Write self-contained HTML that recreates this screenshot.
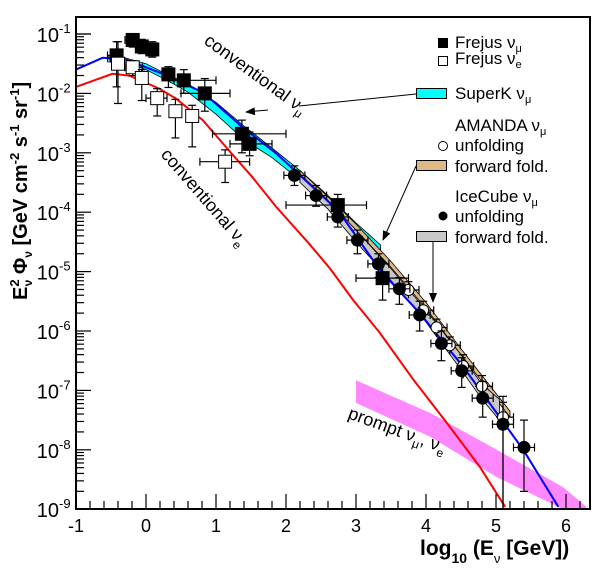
<!DOCTYPE html>
<html><head><meta charset="utf-8"><style>
body{margin:0;background:#fff}
svg{display:block;font-family:"Liberation Sans",sans-serif}
</style></head><body>
<svg id="chart" width="608" height="572" viewBox="0 0 608 572">
<defs>
<marker id="ah" markerWidth="10" markerHeight="8" refX="9" refY="4" orient="auto" markerUnits="userSpaceOnUse"><path d="M0,0 L10,4 L0,8 z" fill="#000"/></marker>
</defs>
<rect x="76" y="17" width="514" height="492" fill="#fff"/>
<g id="bands"></g>
<g id="curves"></g>
<g id="points"></g>
<g id="axes"></g>
<rect x="76" y="17" width="514" height="492" fill="none" stroke="#000" stroke-width="2"/>
<g font-size="17">
<rect x="438" y="38" width="10" height="10" fill="#000"/>
<text x="455" y="48">Frejus ν<tspan font-size="11" dy="4">μ</tspan></text>
<rect x="438.5" y="56.5" width="9" height="9" fill="#fff" stroke="#000"/>
<text x="455" y="64">Frejus ν<tspan font-size="11" dy="4">e</tspan></text>
<rect x="416.5" y="88.5" width="30" height="10" fill="#00ffff" stroke="#000"/>
<text x="455" y="99">SuperK ν<tspan font-size="11" dy="4">μ</tspan></text>
<text x="455" y="131">AMANDA ν<tspan font-size="11" dy="4">μ</tspan></text>
<circle cx="443" cy="146" r="4.5" fill="#fff" stroke="#000"/>
<text x="455" y="151">unfolding</text>
<rect x="416.5" y="160.5" width="30" height="10" fill="#deb887" stroke="#000"/>
<text x="455" y="172">forward fold.</text>
<text x="455" y="202">IceCube ν<tspan font-size="11" dy="4">μ</tspan></text>
<circle cx="443" cy="216" r="4.5" fill="#000"/>
<text x="455" y="222">unfolding</text>
<rect x="416.5" y="231.5" width="30" height="10" fill="#c8c8c8" stroke="#000"/>
<text x="455" y="243">forward fold.</text>
</g>
<g stroke="#000" stroke-width="1" fill="none">
<line x1="416" y1="94" x2="299" y2="106"/>
<line x1="268" y1="110" x2="246" y2="112" marker-end="url(#ah)"/>
<line x1="416" y1="166" x2="383" y2="240" marker-end="url(#ah)"/>
<line x1="433" y1="242" x2="433" y2="302" marker-end="url(#ah)"/>
</g>
<text transform="translate(203,43) rotate(36)" font-size="18">conventional ν<tspan font-size="12" dy="5">μ</tspan></text>
<text transform="translate(160,155) rotate(49)" font-size="18">conventional ν<tspan font-size="12" dy="5">e</tspan></text>
<text transform="translate(347,418) rotate(20)" font-size="18">prompt ν<tspan font-size="12" dy="5">μ</tspan><tspan dy="-5">, ν</tspan><tspan font-size="12" dy="5">e</tspan></text>
<text transform="translate(27,300) rotate(-90)" font-size="20" font-weight="bold">E<tspan font-size="13" dy="-8">2</tspan><tspan font-size="12" dx="-7" dy="13">ν</tspan><tspan dy="-5"> Φ</tspan><tspan font-size="12" dy="5">ν</tspan><tspan dy="-5"> [GeV cm</tspan><tspan font-size="13" dy="-8">-2</tspan><tspan dy="8"> s</tspan><tspan font-size="13" dy="-8">-1</tspan><tspan dy="8"> sr</tspan><tspan font-size="13" dy="-8">-1</tspan><tspan dy="8">]</tspan></text>
<text x="420" y="555" font-size="21" font-weight="bold">log<tspan font-size="14" dy="8">10</tspan><tspan dy="-8"> (E</tspan><tspan font-size="13" dy="8" font-weight="normal">ν</tspan><tspan dy="-8"> [GeV])</tspan></text>
<script>
const blueE=[-1,-0.62,-0.29,0.24,0.81,1.38,1.86,2.33,2.63,2.81,3.34,3.91,4.53,5.01,5.39,5.89];
const blueF=[-1.60,-1.40,-1.43,-1.67,-1.98,-2.57,-3.01,-3.52,-3.85,-4.08,-4.97,-5.70,-6.6,-7.38,-8.0,-8.96];
const redE=[-1,-0.48,-0.24,0.19,0.43,0.81,1.14,1.52,1.86,2.33,2.63,2.96,3.34,3.82,4.3,4.77,5.13];
const redF=[-1.89,-1.67,-1.70,-1.92,-2.09,-2.45,-2.90,-3.41,-3.91,-4.53,-4.95,-5.48,-6.03,-6.82,-7.55,-8.29,-8.96];
const promptE=[3.0,4.06,5.01,5.96,6.29];
const promptLo=[-7.21,-7.78,-8.46,-9.0,-9.0];
const promptHi=[-6.83,-7.38,-8.0,-8.63,-8.96];
const superkE=[-0.55,-0.3,0,0.3,0.6,1.0,1.4,1.8,2.2,2.6,3.0,3.35];
const superkLo=[-1.47,-1.48,-1.60,-1.78,-1.98,-2.35,-2.78,-3.08,-3.46,-3.85,-4.3,-4.7];
const superkHi=[-1.38,-1.40,-1.50,-1.68,-1.84,-2.15,-2.55,-2.92,-3.3,-3.72,-4.18,-4.55];
const amandaFfE=[2.2,2.6,3.0,3.5,4.0,4.5,5.0,5.2];
const amandaFfLo=[-3.38,-3.82,-4.3,-4.93,-5.62,-6.4,-7.15,-7.45];
const amandaFfHi=[-3.3,-3.74,-4.2,-4.83,-5.52,-6.3,-7.05,-7.35];
const icecubeFfE=[2.2,2.6,3.0,3.5,4.0,4.5,4.8,5.05];
const icecubeFfLo=[-3.5,-3.95,-4.5,-5.15,-5.85,-6.65,-7.15,-7.5];
const icecubeFfHi=[-3.36,-3.8,-4.3,-4.95,-5.65,-6.4,-6.9,-7.15];
const frejusMuE=[-0.42,-0.19,-0.06,0.09,0.32,0.54,0.84,1.37,1.48,2.74,3.38];
const frejusMuF=[-1.36,-1.10,-1.21,-1.26,-1.68,-1.78,-2.00,-2.68,-2.85,-3.88,-5.11];
const frejusMuXlo=[-0.55,-0.3,-0.06,0.0,0.32,0.4,0.5,0.95,1.2,2.0,3.0];
const frejusMuXhi=[-0.42,-0.1,-0.06,0.15,0.32,1.0,1.2,2.0,1.8,3.15,3.75];
const frejusMuYlo=[-1.89,-1.22,-1.33,-1.39,-1.9,-2.0,-2.3,-3.0,-3.05,-4.0,-5.48];
const frejusMuYhi=[-1.13,-1.03,-1.09,-1.13,-1.55,-1.6,-1.75,-2.45,-2.65,-3.7,-4.85];
const frejusEE=[-0.40,-0.19,-0.06,0.16,0.42,0.66,1.13];
const frejusEF=[-1.50,-1.56,-1.74,-2.08,-2.30,-2.38,-3.15];
const frejusEXlo=[-0.4,-0.3,-0.06,0.0,0.42,0.66,0.77];
const frejusEXhi=[-0.4,-0.05,-0.06,0.3,0.42,0.66,1.48];
const frejusEYlo=[-2.17,-1.7,-2.12,-2.38,-2.75,-2.9,-3.5];
const frejusEYhi=[-1.13,-1.45,-1.6,-1.92,-2.1,-2.2,-2.95];
const amandaE=[3.75,3.96,4.15,4.34,4.53,4.80,5.10];
const amandaF=[-5.31,-5.65,-5.94,-6.24,-6.59,-6.93,-7.45];
const amandaYlo=[-5.45,-5.8,-6.1,-6.4,-6.8,-7.15,-9.0];
const amandaYhi=[-5.17,-5.5,-5.8,-6.1,-6.4,-6.75,-7.1];
const icecubeE=[2.12,2.43,2.74,3.02,3.32,3.62,3.91,4.22,4.51,4.81,5.10,5.40];
const icecubeF=[-3.38,-3.72,-4.08,-4.47,-4.87,-5.29,-5.73,-6.21,-6.67,-7.13,-7.57,-7.96];
const icecubeYlo=[-3.55,-3.9,-4.25,-4.7,-5.1,-5.55,-6.0,-6.5,-6.95,-7.45,-9.0,-8.7];
const icecubeYhi=[-3.22,-3.55,-3.9,-4.3,-4.7,-5.1,-5.5,-6.0,-6.45,-6.85,-7.2,-7.5];
const xTicks=[-1,0,1,2,3,4,5,6];
const yTicks=[-1,-2,-3,-4,-5,-6,-7,-8,-9];

const NS="http://www.w3.org/2000/svg";
const X=l=>146+70*l, Y=l=>34+(-1-l)*59.4;
function mk(tag,attrs,parent){const e=document.createElementNS(NS,tag);for(const k in attrs)e.setAttribute(k,attrs[k]);parent.appendChild(e);return e;}
const bands=document.getElementById('bands'),curves=document.getElementById('curves'),pts=document.getElementById('points'),axes=document.getElementById('axes');
function bandPath(E,lo,hi){let d='';E.forEach((e,i)=>{d+=(i?'L':'M')+X(e).toFixed(1)+','+Y(hi[i]).toFixed(1);});for(let i=E.length-1;i>=0;i--)d+='L'+X(E[i]).toFixed(1)+','+Y(lo[i]).toFixed(1);return d+'Z';}
function linePath(E,F){return E.map((e,i)=>(i?'L':'M')+X(e).toFixed(1)+','+Y(F[i]).toFixed(1)).join('');}
let b;
b=mk('path',{d:bandPath(promptE,promptLo,promptHi),fill:'#ff88ff',stroke:'none'},bands);


b=mk('path',{d:bandPath(superkE,superkLo,superkHi),fill:'#00ffff',stroke:'#000','stroke-width':0.8},bands);


b=mk('path',{d:bandPath(amandaFfE,amandaFfLo,amandaFfHi),fill:'#deb887',stroke:'#000','stroke-width':0.8},bands);


b=mk('path',{d:bandPath(icecubeFfE,icecubeFfLo,icecubeFfHi),fill:'#c8c8c8',stroke:'#000','stroke-width':0.8},bands);


let c=mk('path',{d:linePath(redE,redF),fill:'none',stroke:'#ff0000','stroke-width':2},curves);


c=mk('path',{d:linePath(blueE,blueF),fill:'none',stroke:'#0000ff','stroke-width':2},curves);


function errbar(x1,y1,x2,y2){mk('line',{x1:X(x1),y1:Y(y1),x2:X(x2),y2:Y(y2),stroke:'#000','stroke-width':1.2},pts);}
function cap(e,f,vert){if(vert)mk('line',{x1:X(e)-4,x2:X(e)+4,y1:Y(f),y2:Y(f),stroke:'#000','stroke-width':1.2},pts);else mk('line',{x1:X(e),x2:X(e),y1:Y(f)-4,y2:Y(f)+4,stroke:'#000','stroke-width':1.2},pts);}
frejusMuE.forEach((e,i)=>{
  errbar(e,frejusMuYlo[i],e,frejusMuYhi[i]);cap(e,frejusMuYlo[i],1);cap(e,frejusMuYhi[i],1);
  errbar(frejusMuXlo[i],frejusMuF[i],frejusMuXhi[i],frejusMuF[i]);cap(frejusMuXlo[i],frejusMuF[i],0);cap(frejusMuXhi[i],frejusMuF[i],0);
  const r=mk('rect',{x:X(e)-7,y:Y(frejusMuF[i])-7,width:14,height:14,fill:'#000'},pts);
  
  
});
frejusEE.forEach((e,i)=>{
  errbar(e,frejusEYlo[i],e,frejusEYhi[i]);cap(e,frejusEYlo[i],1);cap(e,frejusEYhi[i],1);
  errbar(frejusEXlo[i],frejusEF[i],frejusEXhi[i],frejusEF[i]);cap(frejusEXlo[i],frejusEF[i],0);cap(frejusEXhi[i],frejusEF[i],0);
  const r=mk('rect',{x:X(e)-6.5,y:Y(frejusEF[i])-6.5,width:13,height:13,fill:'#fff',stroke:'#000','stroke-width':1},pts);
  
  
});
amandaE.forEach((e,i)=>{
  errbar(e,amandaYlo[i],e,amandaYhi[i]);cap(e,amandaYhi[i],1);
  errbar(e-0.1,amandaF[i],e+0.15,amandaF[i]);cap(e+0.15,amandaF[i],0);
  const r=mk('circle',{cx:X(e),cy:Y(amandaF[i]),r:5.5,fill:'#fff',stroke:'#000','stroke-width':1},pts);
  
  
});
icecubeE.forEach((e,i)=>{
  errbar(e,icecubeYlo[i],e,icecubeYhi[i]);cap(e,icecubeYlo[i],1);cap(e,icecubeYhi[i],1);
  errbar(e-0.15,icecubeF[i],e+0.15,icecubeF[i]);cap(e-0.15,icecubeF[i],0);cap(e+0.15,icecubeF[i],0);
  const r=mk('circle',{cx:X(e),cy:Y(icecubeF[i]),r:6.5,fill:'#000'},pts);
  
  
});
for(let v=-1;v<=6.3;v+=0.2){const vv=Math.round(v*10)/10;const major=Math.abs(vv-Math.round(vv))<1e-6;mk('line',{x1:X(vv),x2:X(vv),y1:509,y2:509-(major?15:8),stroke:'#000','stroke-width':1.2},axes);}
xTicks.forEach(t=>{const tx=mk('text',{x:X(t),y:532,'font-size':18,'text-anchor':'middle'},axes);tx.textContent=t;
  
  });
for(let d=-9;d<-0.5;d++){for(let m=1;m<10;m++){const l=d+Math.log10(m);if(l>-0.71)break;mk('line',{x1:76,x2:76+(m===1?15:8),y1:Y(l),y2:Y(l),stroke:'#000','stroke-width':1.2},axes);}}
mk('line',{x1:76,x2:91,y1:Y(-1),y2:Y(-1),stroke:'#000','stroke-width':1.2},axes);
yTicks.forEach(t=>{const tx=mk('text',{x:59,y:Y(t)+8,'font-size':20,'text-anchor':'end'},axes);tx.textContent='10';
  
  
  const s=mk('text',{x:59,y:Y(t)-1,'font-size':13},axes);s.textContent=String(t);});
</script>
</svg>
</body></html>
